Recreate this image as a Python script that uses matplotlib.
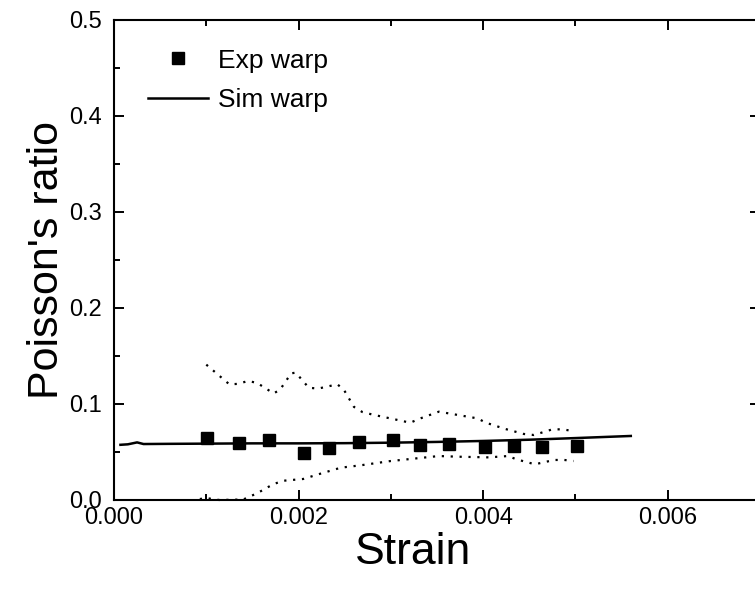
import matplotlib.pyplot as plt
from matplotlib.ticker import MultipleLocator

plt.rcParams['font.family'] = ['Liberation Sans', 'DejaVu Sans']

# Exp warp (squares)
exp_strain = [0.00101, 0.00135, 0.00168, 0.00206, 0.00233, 0.00266, 0.00302,
              0.00332, 0.00363, 0.00402, 0.00433, 0.00464, 0.00502]
exp_poisson = [0.0643, 0.0597, 0.0628, 0.0486, 0.0545, 0.0607, 0.0625,
               0.0573, 0.0580, 0.0556, 0.0566, 0.0556, 0.0566]

# Sim warp (solid line)
sim_strain = [0.00007, 0.00015, 0.00025, 0.00032, 0.0006, 0.001, 0.0015, 0.002,
              0.0025, 0.003, 0.0035, 0.004, 0.0045, 0.005, 0.0056]
sim_poisson = [0.0575, 0.0580, 0.0600, 0.0583, 0.0585, 0.0587, 0.0590, 0.0590,
               0.0592, 0.0597, 0.0605, 0.0615, 0.0628, 0.0645, 0.0667]

# scatter band (dotted)
upper_strain = [0.00100, 0.00125, 0.00135, 0.00145, 0.00155, 0.00173, 0.00180,
                0.00192, 0.00197, 0.00211, 0.00221, 0.00242, 0.00249, 0.00260,
                0.00269, 0.00280, 0.00311, 0.00321, 0.00332, 0.00352, 0.00394,
                0.00403, 0.00424, 0.00444, 0.00455, 0.00475, 0.00486, 0.00497]
upper_poisson = [0.141, 0.1205, 0.121, 0.124, 0.122, 0.111, 0.115,
                 0.132, 0.1326, 0.117, 0.116, 0.1205, 0.115, 0.097,
                 0.0917, 0.089, 0.0826, 0.0805, 0.085, 0.092, 0.085,
                 0.0805, 0.074, 0.0688, 0.0677, 0.0736, 0.0736, 0.0719]

lower_strain = [0.00093, 0.00100, 0.00114, 0.00140, 0.00155, 0.00173, 0.00184,
                0.00205, 0.00225, 0.00246, 0.00267, 0.00299, 0.00331, 0.00352,
                0.00373, 0.00406, 0.00427, 0.00436, 0.00456, 0.00477, 0.00488,
                0.00498]
lower_poisson = [0.001, 0.002, 0.0, 0.0005, 0.007, 0.0167, 0.0201,
                 0.0219, 0.0278, 0.0337, 0.0361, 0.0405, 0.0437, 0.0458,
                 0.0451, 0.0444, 0.0458, 0.0424, 0.0372, 0.0417, 0.0417,
                 0.0406]

fig = plt.figure(figsize=(7.55, 5.96), dpi=100)
ax = fig.add_axes([114 / 755, 96 / 596, 646 / 755, 480 / 596])

ax.plot(upper_strain, upper_poisson, color="black", lw=1.6,
        linestyle=(0, (1, 3)), clip_on=False)
ax.plot(lower_strain, lower_poisson, color="black", lw=1.6,
        linestyle=(0, (1, 3)), clip_on=False)
ax.plot(exp_strain, exp_poisson, "s", color="black", ms=9, label="Exp warp")
ax.plot(sim_strain, sim_poisson, "-", color="black", lw=1.8, label="Sim warp")

ax.set_xlim(0, 0.007)
ax.set_ylim(0, 0.5)
ax.xaxis.set_major_locator(MultipleLocator(0.002))
ax.xaxis.set_minor_locator(MultipleLocator(0.001))
ax.yaxis.set_major_locator(MultipleLocator(0.1))
ax.yaxis.set_minor_locator(MultipleLocator(0.05))
ax.xaxis.set_major_formatter(lambda v, p: f"{v:.3f}")
ax.yaxis.set_major_formatter(lambda v, p: f"{v:.1f}")

ax.tick_params(which="both", direction="in", top=True, right=True,
               labelsize=17, width=1.4)
ax.tick_params(which="major", length=7)
ax.tick_params(which="minor", length=4)
ax.tick_params(axis="y", which="minor", right=False)
ax.tick_params(axis="x", pad=5)
ax.tick_params(axis="y", pad=9)
for s in ax.spines.values():
    s.set_linewidth(1.5)

ax.set_xlabel("Strain", fontsize=32)
ax.set_ylabel("Poisson's ratio", fontsize=31)
ax.xaxis.set_label_coords(0.463, -0.066)
ax.yaxis.set_label_coords(-0.072, 0.5)

ax.legend(loc="upper left", bbox_to_anchor=(0.0526, 0.9406), frameon=False,
          fontsize=19, borderpad=0, borderaxespad=0, handlelength=2.27,
          handletextpad=0.38, labelspacing=0.58)

plt.savefig("out.png", dpi=100)
